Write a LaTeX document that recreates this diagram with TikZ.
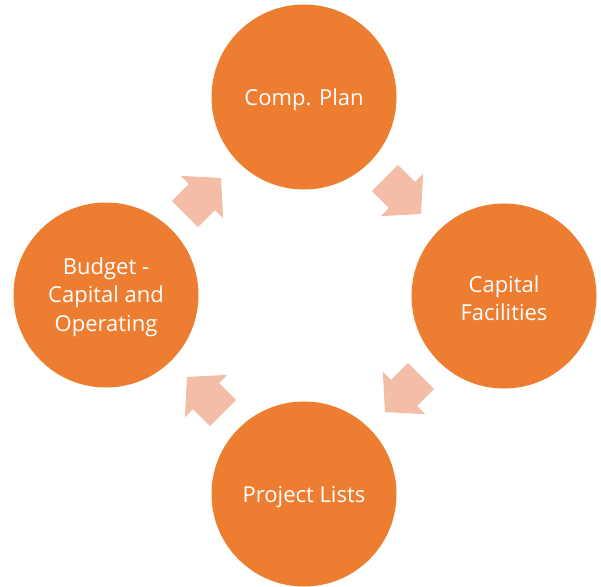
\documentclass[tikz,border=0pt]{standalone}
\usepackage{fontspec}
\setmainfont{Open Sans}
\definecolor{orangefill}{HTML}{ED7D31}
\definecolor{arrowfill}{HTML}{F4BDA8}
\begin{document}
\begin{tikzpicture}[x=1pt,y=-1pt,
  stage/.style={circle,fill=orangefill,minimum size=185pt,inner sep=0pt},
  stagetext/.style={text=white,align=center,inner sep=0pt,font=\fontsize{22}{28.5}\selectfont},
  blockarrow/.pic={\fill[arrowfill] (-25.5,-18.4) -- (-1.5,-18.4) -- (-1.5,-30) -- (25.5,0) -- (-1.5,30) -- (-1.5,18.4) -- (-25.5,18.4) -- cycle;}]
\useasboundingbox (0,0) rectangle (601,586);
\node[stage] (plan) at (304,97) {};
\node[stage] (facilities) at (504,296) {};
\node[stage] (projects) at (304,494) {};
\node[stage] (budget) at (106,295) {};
\node[stagetext] (plantext) at ([yshift=-3pt]plan.center) {Comp. Plan};
\node[stagetext] (facilitiestext) at ([yshift=-2pt]facilities.center) {Capital\\Facilities};
\node[stagetext] (projectstext) at ([yshift=-3pt]projects.center) {Project Lists};
\node[stagetext] (budgettext) at ([yshift=-2pt]budget.center) {Budget -\\Capital and\\Operating};
\pic[rotate=-45] (a1) at (403,196) {blockarrow};
\pic[rotate=-135] (a2) at (403,394) {blockarrow};
\pic[rotate=135] (a3) at (205,395) {blockarrow};
\pic[rotate=45] (a4) at (203,196) {blockarrow};
\end{tikzpicture}
\end{document}
